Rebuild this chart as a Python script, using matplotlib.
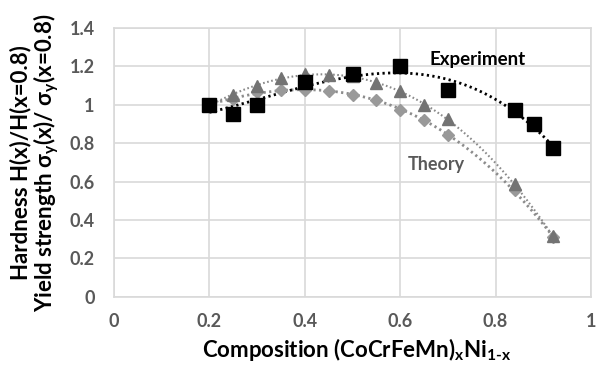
import numpy as np
import matplotlib
matplotlib.use("Agg")
import matplotlib.pyplot as plt

plt.rcParams['font.family'] = ['Lato', 'DejaVu Sans']
plt.rcParams['font.weight'] = 'bold'
plt.rcParams['mathtext.fontset'] = 'custom'
plt.rcParams['mathtext.rm'] = 'Lato:bold'
plt.rcParams['mathtext.it'] = 'Lato:bold'
plt.rcParams['mathtext.bf'] = 'Lato:bold'

# Experiment (squares)
exp_x = [0.2, 0.25, 0.3, 0.4, 0.5, 0.6, 0.7, 0.84, 0.88, 0.92]
exp_y = [1.00, 0.95, 1.00, 1.12, 1.16, 1.20, 1.075, 0.975, 0.90, 0.775]
# Theory 1 (triangles)
tri_x = [0.2, 0.25, 0.3, 0.35, 0.4, 0.45, 0.5, 0.55, 0.6, 0.65, 0.7, 0.84, 0.92]
tri_y = [1.00, 1.05, 1.10, 1.14, 1.16, 1.155, 1.15, 1.115, 1.07, 1.00, 0.925, 0.585, 0.315]
# Theory 2 (diamonds)
dia_x = [0.2, 0.25, 0.3, 0.35, 0.4, 0.45, 0.5, 0.55, 0.6, 0.65, 0.7, 0.84, 0.92]
dia_y = [1.00, 1.03, 1.065, 1.08, 1.08, 1.07, 1.05, 1.025, 0.975, 0.92, 0.845, 0.555, 0.31]

xticks = [0, 0.2, 0.4, 0.6, 0.8, 1]
xticklabels = ['0', '0.2', '0.4', '0.6', '0.8', '1']
yticks = [0, 0.2, 0.4, 0.6, 0.8, 1.0, 1.2, 1.4]
yticklabels = ['0', '0.2', '0.4', '0.6', '0.8', '1', '1.2', '1.4']

fig = plt.figure(figsize=(6, 3.65), dpi=100)
ax = fig.add_axes([0.19, 0.187, 0.795, 0.736])

grid_c = '#d9d9d9'
ax.set_xlim(0, 1)
ax.set_ylim(0, 1.4)
ax.set_xticks(xticks)
ax.set_xticklabels(xticklabels)
ax.set_yticks(yticks)
ax.set_yticklabels(yticklabels)
ax.grid(True, color=grid_c, linewidth=1.2)
ax.set_axisbelow(True)
for s in ax.spines.values():
    s.set_color(grid_c)
    s.set_linewidth(1.2)
ax.tick_params(length=0, labelsize=13, labelcolor='#595959')
ax.tick_params(axis='y', pad=14)
ax.tick_params(axis='x', pad=12)

def trend(xs, ys, color, lw):
    c = np.polyfit(xs, ys, 3)
    xx = np.linspace(min(xs), max(xs), 200)
    ax.plot(xx, np.polyval(c, xx), linestyle=(0, (0.8, 1.2)), color=color,
            linewidth=lw, zorder=2)

trend(dia_x, dia_y, '#8c8c8c', 2.0)
trend(tri_x, tri_y, '#8a8a8a', 1.5)
trend(exp_x, exp_y, '#000000', 2.0)

ax.plot(dia_x, dia_y, 'D', color='#999999', markersize=6.5, linestyle='none', zorder=3)
ax.plot(tri_x, tri_y, '^', color='#737373', markersize=9, linestyle='none', zorder=4)
ax.plot(exp_x, exp_y, 's', color='#000000', markersize=9.5, linestyle='none', zorder=5)

ax.text(0.662, 1.21, 'Experiment', fontsize=13.5, fontweight='bold', color='#000000')
ax.text(0.615, 0.66, 'Theory', fontsize=13, fontweight='bold', color='#595959')

ax.set_xlabel(r'Composition (CoCrFeMn)$_\mathregular{x}$Ni$_\mathregular{1\text{-}x}$',
              fontsize=16, fontweight='bold')
ax.xaxis.set_label_coords(0.508, -0.145)
ax.xaxis.label.set_va('top')
ax.set_ylabel('Hardness H(x)/H(x=0.8)\n' +
              r'Yield strength σ$_\mathregular{y}$(x)/ σ$_\mathregular{y}$(x=0.8)',
              fontsize=16, fontweight='bold', labelpad=6, linespacing=1.0)

fig.savefig('out.png', dpi=100)
